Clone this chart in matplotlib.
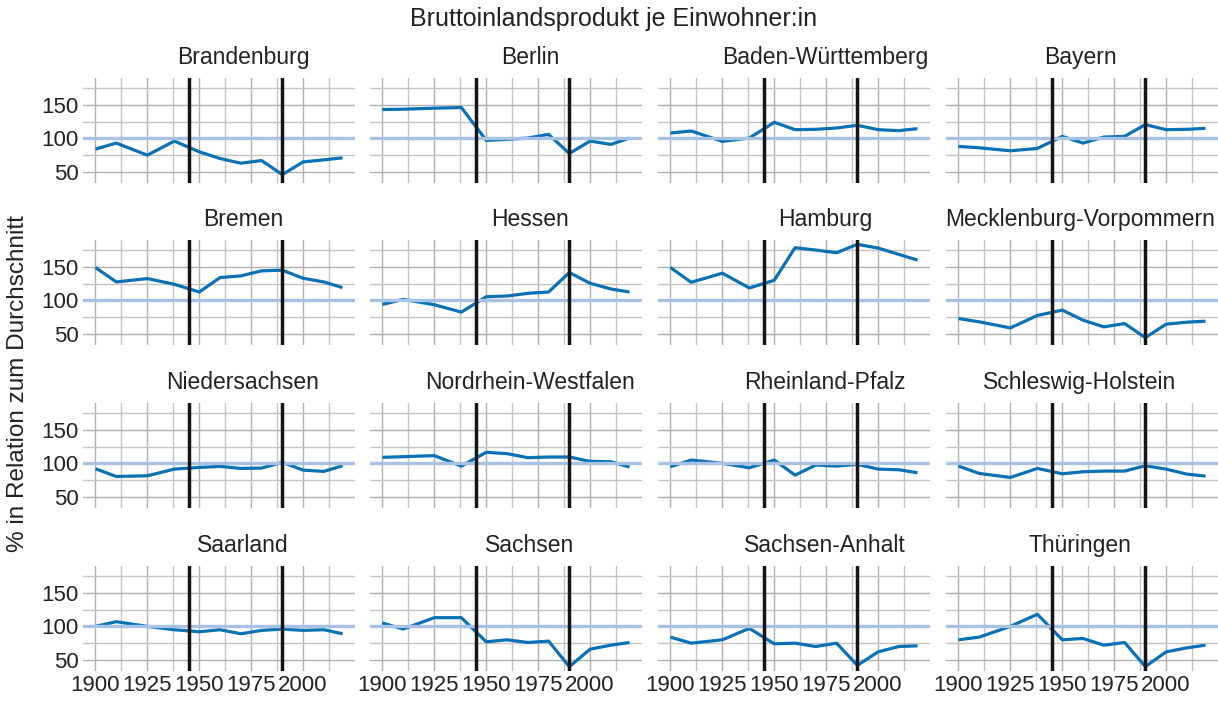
import numpy as np
import matplotlib
matplotlib.use("Agg")
import matplotlib.pyplot as plt
from matplotlib.ticker import FixedLocator

plt.rcParams['font.family'] = ['Liberation Sans', 'DejaVu Sans']

years = [1900, 1910, 1925, 1938, 1950, 1960, 1970, 1980, 1990, 2000, 2010, 2019]
events = [1945, 1990]
xticks = [1900, 1925, 1950, 1975, 2000]

states = ["Brandenburg", "Berlin", "Baden-Württemberg", "Bayern",
          "Bremen", "Hessen", "Hamburg", "Mecklenburg-Vorpommern",
          "Niedersachsen", "Nordrhein-Westfalen", "Rheinland-Pfalz", "Schleswig-Holstein",
          "Saarland", "Sachsen", "Sachsen-Anhalt", "Thüringen"]

brandenburg = [84, 93, 75, 96, 80, 70, 63, 67, 46, 65, 68, 71]
berlin = [143, 143.5, 145, 146, 97, 98.5, 100.5, 106, 77.5, 96, 91, 100.5]
baden_wuerttemberg = [108, 111, 95.5, 100.5, 124, 113, 113.5, 115.5, 119.5, 113, 111.5, 114.5]
bayern = [88, 86, 81.5, 85, 103, 93, 102, 103, 120.5, 113, 113.5, 115]
bremen = [149, 127.5, 132.5, 124, 112.5, 134, 136.5, 144, 145, 133, 127.5, 119]
hessen = [94, 101.5, 93.5, 82.5, 105.5, 106.5, 110.5, 112.5, 141.5, 125.5, 117, 112.5]
hamburg = [149, 127, 140.5, 118.5, 130, 178.5, 175, 171, 183.5, 178, 168.5, 160]
meck_pomm = [73, 68, 59, 77.5, 85.5, 70.5, 60.5, 65.5, 44.5, 64.5, 67.5, 69]
niedersachsen = [92, 80.5, 81.5, 91.5, 94, 95.5, 92.5, 93, 101.5, 90, 88, 96.5]
nrw = [109, 110, 111.5, 96, 116.5, 114.5, 108.5, 109.5, 109.5, 103, 102.5, 94.5]
rheinland_pfalz = [95, 105, 100, 93.5, 105, 82.5, 97.5, 96, 98.5, 91.5, 90.5, 86]
schleswig_holstein = [96, 85, 79, 92.5, 84.5, 87.5, 88.5, 88.5, 96.5, 91.5, 84, 81]
saarland = [100, 107, 100, 95, 92, 95, 89, 94, 96, 94, 95, 89]
sachsen = [105, 96, 113, 113, 77, 80, 76, 78, 40, 66, 72, 76]
sachsen_anhalt = [84, 75, 80, 97, 74, 75, 70, 75, 42, 62, 70, 71]
thueringen = [80, 84, 100, 118, 80, 82, 72, 76, 40, 62, 68, 72]

values = [brandenburg, berlin, baden_wuerttemberg, bayern,
          bremen, hessen, hamburg, meck_pomm,
          niedersachsen, nrw, rheinland_pfalz, schleswig_holstein,
          saarland, sachsen, sachsen_anhalt, thueringen]

W, H = 1218, 701
fig = plt.figure(figsize=(W / 100, H / 100), dpi=100)

# panel geometry in pixels
lefts = [83, 370, 658, 946]
tops = [78, 240, 403, 566]
pw, ph = 272, 105
title_dx = [24, 24, 31, -2]   # strip titles are not quite centred

blue = '#0a72b4'
ref_col = '#a8c2e6'
txt = '#222222'

for i, (name, vals) in enumerate(zip(states, values)):
    r, c = divmod(i, 4)
    ax = fig.add_axes([lefts[c] / W, 1 - (tops[r] + ph) / H, pw / W, ph / H])
    ax.set_xlim(1894, 2025)
    ax.set_ylim(33.5, 190)
    ax.xaxis.set_major_locator(FixedLocator(xticks))
    ax.xaxis.set_minor_locator(FixedLocator([x + 12.5 for x in xticks]))
    ax.yaxis.set_major_locator(FixedLocator([50, 100, 150]))
    ax.yaxis.set_minor_locator(FixedLocator([75, 125, 175]))
    ax.grid(True, which='major', color='#b0b0b0', lw=1.0)
    ax.grid(True, which='minor', color='#c4c4c4', lw=1.0)
    ax.set_axisbelow(True)
    for s in ax.spines.values():
        s.set_visible(False)
    ax.tick_params(which='both', length=0, labelsize=16, colors=txt, pad=3)
    if c != 0:
        ax.tick_params(labelleft=False)
    if r != 3:
        ax.tick_params(labelbottom=False)

    ax.plot(years, vals, color=blue, lw=2.3, zorder=3, solid_capstyle='butt')
    ax.axhline(100, color=ref_col, lw=2.4, zorder=4)
    for e in events:
        ax.axvline(e, color='#151515', lw=2.5, zorder=5)

    cx = lefts[c] + pw / 2 + title_dx[c]
    fig.text(cx / W, 1 - (tops[r] - 14) / H, name, ha='center', va='baseline',
             fontsize=16.5, color=txt)

fig.text(614 / W, 1 - 19 / H, "Bruttoinlandsprodukt je Einwohner:in",
         ha='center', va='center', fontsize=18, color=txt)
fig.text(18 / W, 1 - 384 / H, "% in Relation zum Durchschnitt", rotation=90,
         ha='center', va='center', fontsize=17.5, color=txt)

fig.savefig('out.png', dpi=100, facecolor='white')
